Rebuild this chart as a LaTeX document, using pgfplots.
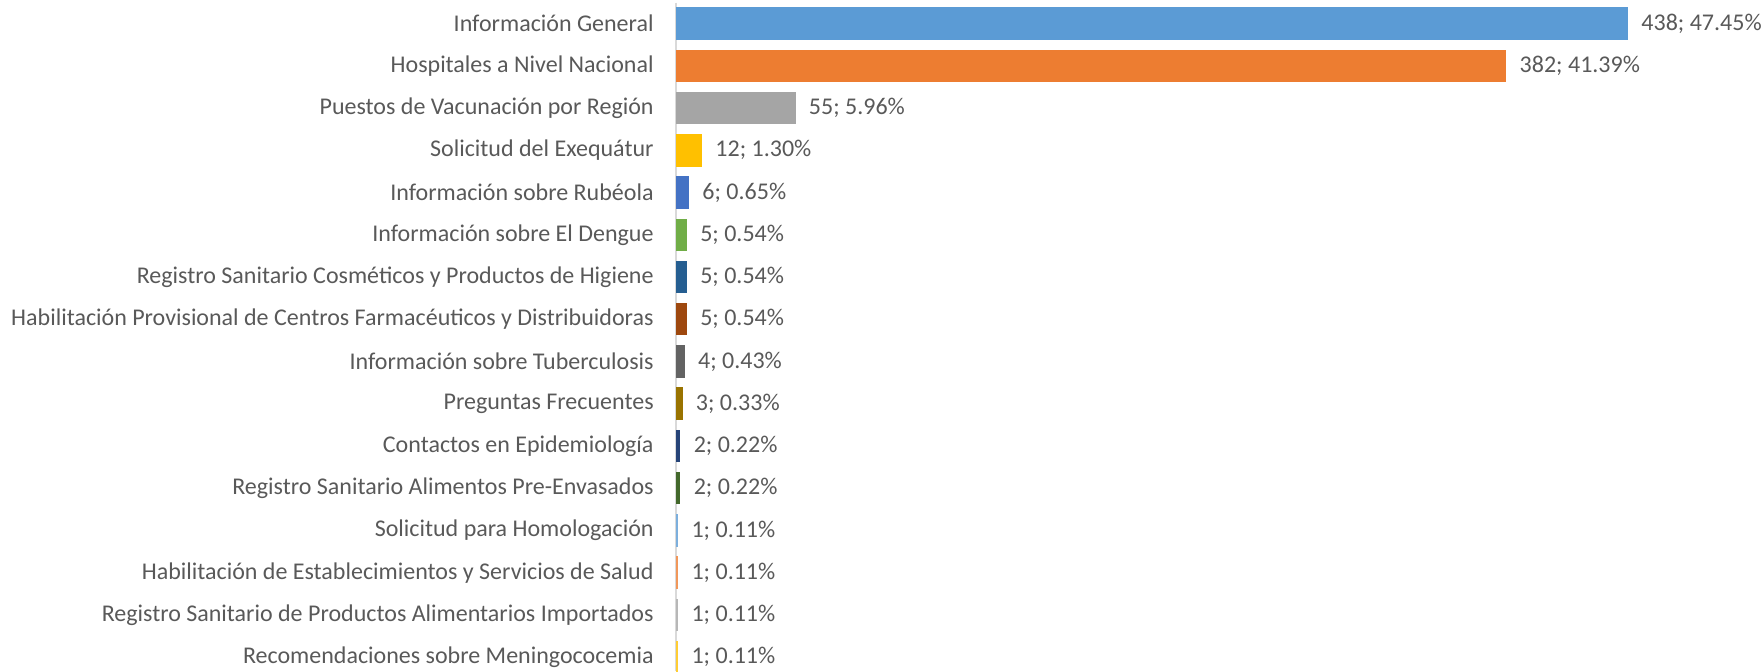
\documentclass[border=0pt]{standalone}
\usepackage{pgfplots}
\pgfplotsset{compat=1.18}
\usepackage{fontspec}
\setmainfont{Carlito}
\definecolor{txtgray}{HTML}{595959}
\definecolor{axgray}{HTML}{D9D9D9}
\definecolor{c1}{HTML}{5B9BD5}
\definecolor{c2}{HTML}{ED7D31}
\definecolor{c3}{HTML}{A5A5A5}
\definecolor{c4}{HTML}{FFC000}
\definecolor{c5}{HTML}{4472C4}
\definecolor{c6}{HTML}{70AD47}
\definecolor{c7}{HTML}{255E91}
\definecolor{c8}{HTML}{9E480E}
\definecolor{c9}{HTML}{636363}
\definecolor{c10}{HTML}{997300}
\definecolor{c11}{HTML}{264478}
\definecolor{c12}{HTML}{43682B}
\definecolor{c13}{HTML}{7CAFDD}
\definecolor{c14}{HTML}{F1975A}
\definecolor{c15}{HTML}{B7B7B7}
\definecolor{c16}{HTML}{FFCD33}
\begin{document}
\begin{tikzpicture}
\begin{axis}[
  at={(338pt,0pt)}, anchor=south west,
  scale only axis, width=543.4pt, height=334.25pt,
  xmin=0, xmax=500, ymin=-0.5, ymax=15.33, y dir=reverse,
  clip=false,
  axis x line=none, axis y line=left,
  axis line style={draw=axgray, line width=0.8pt, -},
  xtick=\empty,
  ytick={0,...,15},
  yticklabels={Información General, Hospitales a Nivel Nacional, Puestos de Vacunación por Región, Solicitud del Exequátur, Información sobre Rubéola, Información sobre El Dengue, Registro Sanitario Cosméticos y Productos de Higiene, Habilitación Provisional de Centros Farmacéuticos y Distribuidoras, Información sobre Tuberculosis, Preguntas Frecuentes, Contactos en Epidemiología, Registro Sanitario Alimentos Pre-Envasados, Solicitud para Homologación, Habilitación de Establecimientos y Servicios de Salud, Registro Sanitario de Productos Alimentarios Importados, Recomendaciones sobre Meningococemia},
  major tick length=0pt,
  y tick label style={font=\fontsize{12}{14}\selectfont, text=txtgray, inner sep=0pt, xshift=-11pt},
  xbar, bar width=0.77, bar shift=0pt,
  nodes near coords style={font=\fontsize{12}{14}\selectfont, text=txtgray, anchor=west, inner sep=0pt, xshift=6.5pt},
]
\addplot[fill=c1, draw=none, nodes near coords={438; 47.45\%}] coordinates {(438,0)};
\addplot[fill=c2, draw=none, nodes near coords={382; 41.39\%}] coordinates {(382,1)};
\addplot[fill=c3, draw=none, nodes near coords={55; 5.96\%}] coordinates {(55,2)};
\addplot[fill=c4, draw=none, nodes near coords={12; 1.30\%}] coordinates {(12,3)};
\addplot[fill=c5, draw=none, nodes near coords={6; 0.65\%}] coordinates {(6,4)};
\addplot[fill=c6, draw=none, nodes near coords={5; 0.54\%}] coordinates {(5,5)};
\addplot[fill=c7, draw=none, nodes near coords={5; 0.54\%}] coordinates {(5,6)};
\addplot[fill=c8, draw=none, nodes near coords={5; 0.54\%}] coordinates {(5,7)};
\addplot[fill=c9, draw=none, nodes near coords={4; 0.43\%}] coordinates {(4,8)};
\addplot[fill=c10, draw=none, nodes near coords={3; 0.33\%}] coordinates {(3,9)};
\addplot[fill=c11, draw=none, nodes near coords={2; 0.22\%}] coordinates {(2,10)};
\addplot[fill=c12, draw=none, nodes near coords={2; 0.22\%}] coordinates {(2,11)};
\addplot[fill=c13, draw=none, nodes near coords={1; 0.11\%}] coordinates {(1,12)};
\addplot[fill=c14, draw=none, nodes near coords={1; 0.11\%}] coordinates {(1,13)};
\addplot[fill=c15, draw=none, nodes near coords={1; 0.11\%}] coordinates {(1,14)};
\addplot[fill=c16, draw=none, nodes near coords={1; 0.11\%}] coordinates {(1,15)};
\end{axis}
\pgfresetboundingbox
\useasboundingbox (0,0) rectangle (882pt,335.5pt);
\end{tikzpicture}
\end{document}
